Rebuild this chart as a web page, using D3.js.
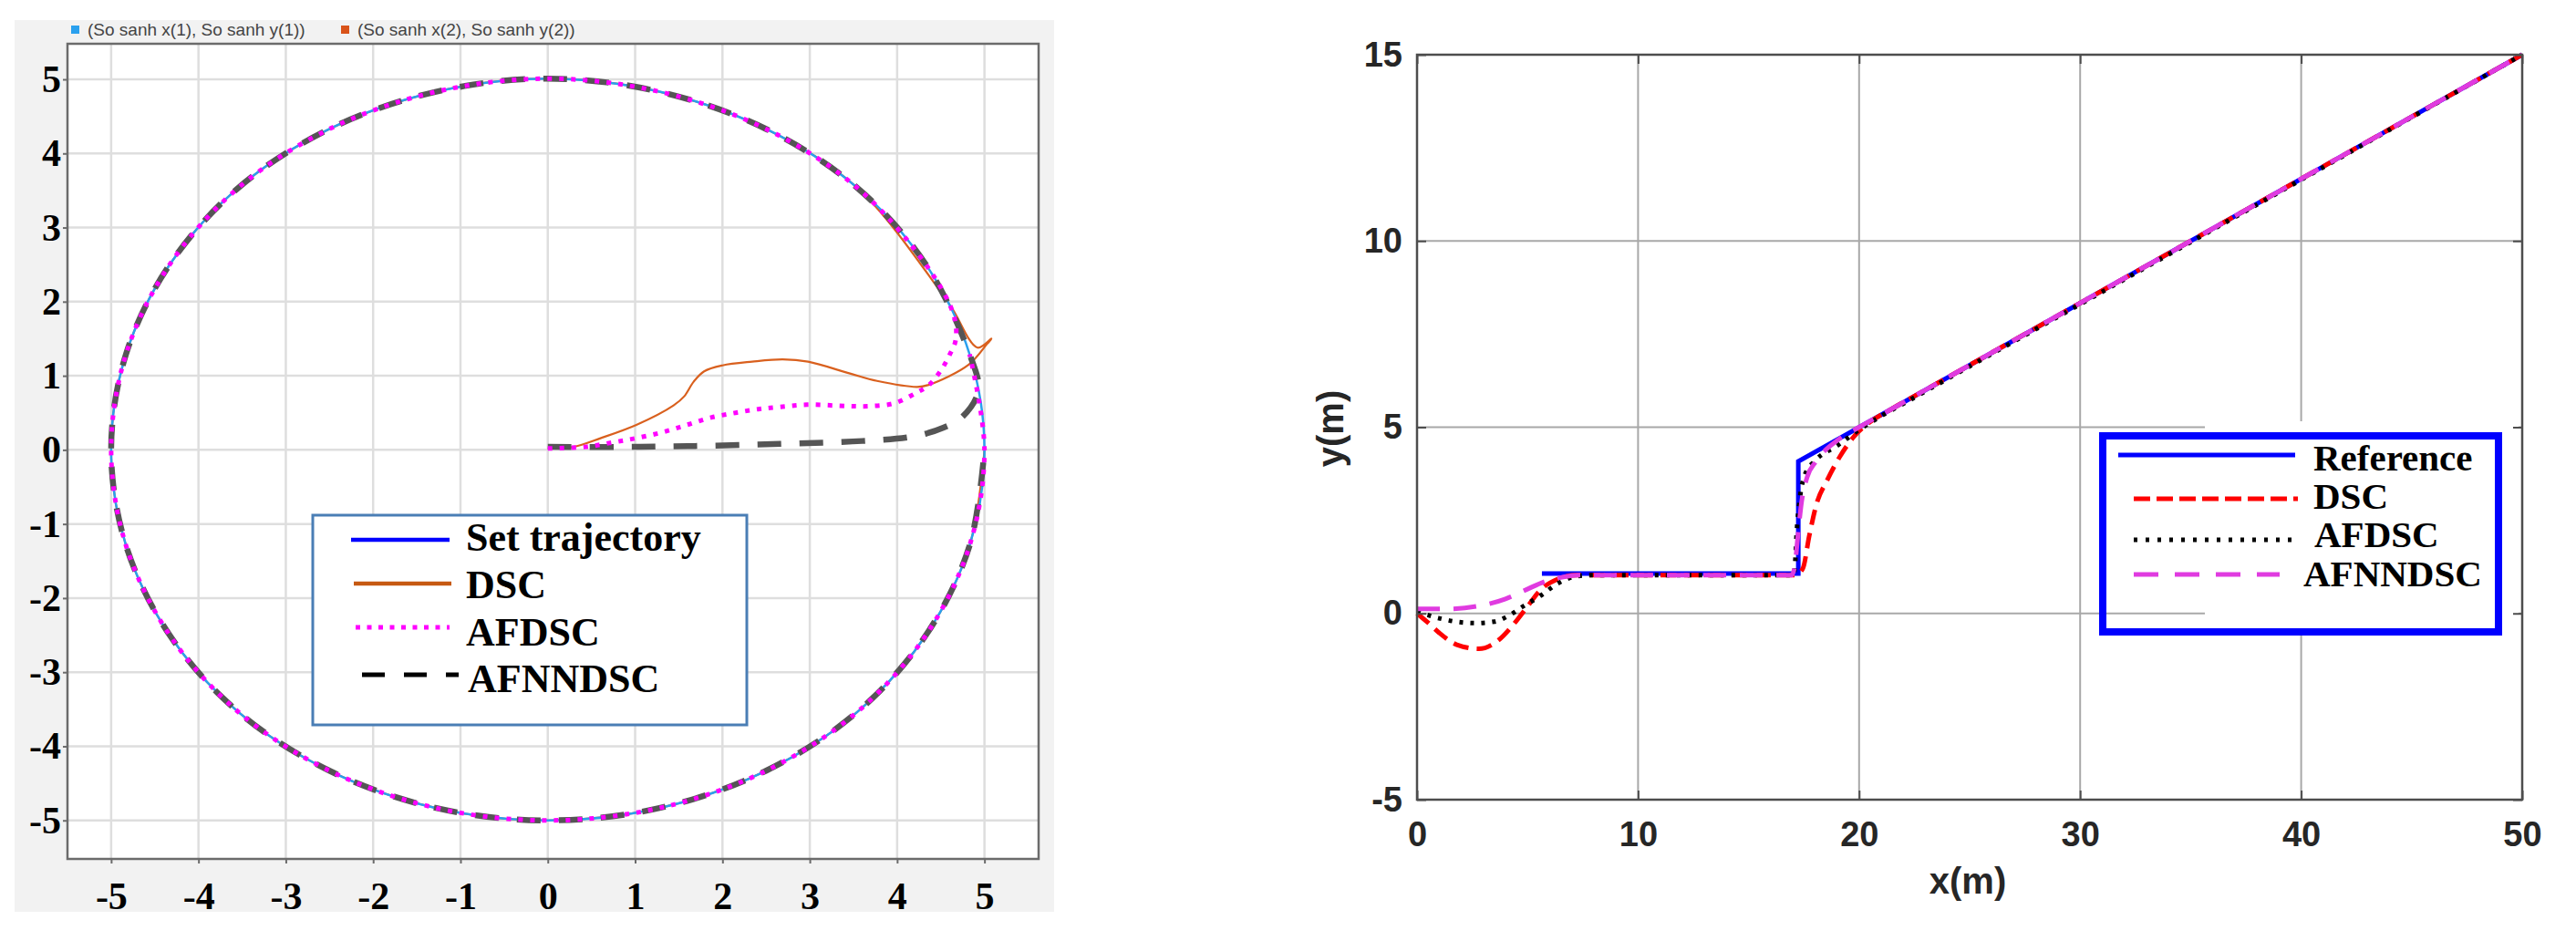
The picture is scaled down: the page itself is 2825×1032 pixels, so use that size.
<!DOCTYPE html>
<html>
<head>
<meta charset="utf-8">
<script src="https://cdn.jsdelivr.net/npm/d3@7"></script>
<style>
body { margin:0; background:#fff; }
</style>
</head>
<body>
<script>
// ---------- left panel: circle tracking ----------
var circleTicks = [-5,-4,-3,-2,-1,0,1,2,3,4,5];
var topLegend = ['(So sanh x(1), So sanh y(1))', '(So sanh x(2), So sanh y(2))'];
var leftNames = ['Set trajectory', 'DSC', 'AFDSC', 'AFNNDSC'];

// set trajectory, read every 15 degrees
var circlePts = [[5,0],[4.83,1.29],[4.33,2.5],[3.54,3.54],[2.5,4.33],[1.29,4.83],[0,5.01],
  [-1.29,4.83],[-2.5,4.33],[-3.54,3.54],[-4.33,2.5],[-4.83,1.29],[-5,0],[-4.83,-1.29],
  [-4.33,-2.5],[-3.54,-3.54],[-2.5,-4.33],[-1.29,-4.83],[0,-5],[1.29,-4.83],[2.5,-4.33],
  [3.54,-3.54],[4.33,-2.5],[4.83,-1.29]];

// start-up parts before the controllers reach the circle
var dscStart = [[0,0.02],[0.29,0.04],[0.61,0.16],[1.02,0.34],[1.44,0.6],[1.56,0.72],[1.67,0.92],
  [1.79,1.06],[2,1.14],[2.34,1.19],[2.69,1.22],[2.98,1.19],[3.46,1.03],[3.77,0.93],[4.23,0.85],
  [4.37,0.88],[4.82,1.15],[5.03,1.43],[5.08,1.5],[4.92,1.38],[4.64,1.89],[4.5,2.13]];
var afdscStart = [[0,0.02],[0.43,0.04],[0.74,0.1],[1.02,0.16],[1.32,0.24],[1.6,0.34],[1.88,0.44],
  [2.15,0.5],[2.41,0.55],[2.66,0.58],[2.97,0.61],[3.45,0.59],[3.69,0.59],[3.97,0.63],[4.22,0.77],
  [4.36,0.87],[4.5,1.07],[4.6,1.28],[4.67,1.48],[4.65,1.81]];
var afnndscStart = [[0,0.04],[0.8,0.04],[1.6,0.05],[2.66,0.08],[3.6,0.12],[4.18,0.18],[4.53,0.3],
  [4.75,0.45],[4.93,0.8]];

// ---------- right panel: step + line tracking ----------
var xTicks = [0,10,20,30,40,50];
var yTicks = [-5,0,5,10,15];
var rightNames = ['Reference', 'DSC', 'AFDSC', 'AFNNDSC'];

var refLine = [[5.65,1.07],[17.25,1.07],[17.25,4.08],[50,15]];
var dscLine = [[0,0],[0.5,-0.25],[1,-0.52],[1.8,-0.84],[2.8,-0.95],[3.7,-0.71],[4.3,-0.34],
  [4.95,0.15],[5.6,0.64],[6.35,0.92],[7.2,1.03],[10,1.03],[17.1,1.03],[17.45,1.2],[17.75,2.1],
  [18.07,2.93],[18.55,3.57],[19.15,4.23],[19.8,4.77],[20.45,5.12],[21.5,5.5],[23,6],[26,7],
  [35,10],[50,15]];
var afdscLine = [[0,0.05],[1,-0.13],[2,-0.24],[2.6,-0.26],[3.5,-0.22],[4.15,-0.06],[4.8,0.19],
  [5.6,0.48],[6.35,0.8],[7.15,0.99],[8,1.03],[17.05,1.03],[17.1,1.3],[17.18,2.2],[17.32,3.09],
  [17.56,3.74],[18.03,4.11],[19,4.5],[20,4.93],[21,5.3],[22,5.63],[24,6.3],[27,7.3],[35,9.97],
  [50,15]];
var afnndscLine = [[0,0.12],[1.3,0.12],[2.7,0.19],[4,0.39],[4.95,0.64],[5.75,0.85],[6.55,0.97],
  [7.3,1.03],[16.95,1.03],[17.1,1.3],[17.2,1.9],[17.4,3.0],[17.65,3.66],[18.05,4.08],[19,4.64],
  [20,5.0],[21,5.33],[23,6],[26,7],[35,10],[50,15]];

var serif = 'Liberation Serif, Times New Roman, serif';
var sans = 'Liberation Sans, Arial, sans-serif';

var svg = d3.select('body')
            .append('svg')
            .attr('width', 2825)
            .attr('height', 1032)

// ================= LEFT =================
var xL = d3.scaleLinear().domain([-5.5, 5.62]).range([74, 1139]);
var yL = d3.scaleLinear().domain([-5.52, 5.48]).range([942, 48]);

var gL = svg.append('g')

gL.append('rect').attr('x',16).attr('y',22).attr('width',1140).attr('height',978).attr('fill','#f2f2f2')
gL.append('rect').attr('x',74).attr('y',48).attr('width',1065).attr('height',894).attr('fill','#fff')

gL.selectAll('line.gx')
  .data(circleTicks).enter().append('line')
  .attr('x1', function(d){return xL(d);}).attr('x2', function(d){return xL(d);})
  .attr('y1', 48).attr('y2', 942)
  .attr('stroke', '#dedede').attr('stroke-width', 2.5)
gL.selectAll('line.gy')
  .data(circleTicks).enter().append('line')
  .attr('y1', function(d){return yL(d);}).attr('y2', function(d){return yL(d);})
  .attr('x1', 74).attr('x2', 1139)
  .attr('stroke', '#dedede').attr('stroke-width', 2.5)

var axLB = gL.append('g')
  .attr('transform', 'translate(0,942)')
  .call(d3.axisBottom(xL).tickValues(circleTicks).tickSize(5).tickSizeOuter(0).tickPadding(20)
        .tickFormat(function(d){return String(d);}))
var axLL = gL.append('g')
  .attr('transform', 'translate(74,0)')
  .call(d3.axisLeft(yL).tickValues(circleTicks).tickSize(5).tickSizeOuter(0).tickPadding(2)
        .tickFormat(function(d){return String(d);}))
;[axLB, axLL].forEach(function(a){
  a.select('.domain').remove();
  a.selectAll('line').attr('stroke', '#6b6b6b').attr('stroke-width', 2);
  a.selectAll('text').attr('font-family', serif).attr('font-weight', 'bold')
    .attr('font-size', 42).attr('fill', '#000');
})

var lineL = d3.line()
  .x(function(d){return xL(d[0]);})
  .y(function(d){return yL(d[1]);})
  .curve(d3.curveCatmullRom.alpha(0.5))

var dscPath = dscStart.concat(circlePts.slice(3), circlePts.slice(0,1));
var afdscPath = afdscStart.concat(circlePts.slice(2), circlePts.slice(0,2));
var afnndscPath = afnndscStart.concat(circlePts.slice(1), circlePts.slice(0,1));

gL.append('path').attr('d', lineL(dscPath))
  .attr('fill','none').attr('stroke','#d9601e').attr('stroke-width',2.2)
gL.append('path')
  .attr('d', d3.line().x(function(d){return xL(d[0]);}).y(function(d){return yL(d[1]);})
                .curve(d3.curveCatmullRomClosed.alpha(0.5))(circlePts))
  .attr('fill','none').attr('stroke','#2aa0ee').attr('stroke-width',2.5)
gL.append('path').attr('d', lineL(afnndscPath))
  .attr('fill','none').attr('stroke','#555').attr('stroke-width',6.5)
  .attr('stroke-dasharray','26,20')
gL.append('path').attr('d', lineL(afdscPath))
  .attr('fill','none').attr('stroke','#ff00ff').attr('stroke-width',5)
  .attr('stroke-dasharray','5,8')

gL.append('rect').attr('x',74).attr('y',48).attr('width',1065).attr('height',894)
  .attr('fill','none').attr('stroke','#6b6b6b').attr('stroke-width',2.5)

// top legend strip
var topX = [78, 374];
var topCol = ['#2aa0ee', '#d95319'];
gL.selectAll('rect.tl').data(topLegend).enter().append('rect')
  .attr('x', function(d,i){return topX[i];}).attr('y', 28).attr('width', 9).attr('height', 9)
  .attr('fill', function(d,i){return topCol[i];})
gL.selectAll('text.tl').data(topLegend).enter().append('text')
  .attr('x', function(d,i){return topX[i] + 18;}).attr('y', 39)
  .attr('font-family', sans).attr('font-size', 19).attr('fill', '#444')
  .text(function(d){return d;})

// left legend
gL.append('rect').attr('x',343).attr('y',565).attr('width',476).attr('height',230)
  .attr('fill','#fff').attr('stroke','#4a7eb5').attr('stroke-width',3)
var legL = [
  {y:592, x1:385, x2:493, c:'#0000ff', w:4.5, dash:null},
  {y:640, x1:388, x2:495, c:'#c65911', w:4.5, dash:null},
  {y:688, x1:390, x2:493, c:'#ff00ff', w:5, dash:'5,7.5'},
  {y:740, x1:397, x2:503, c:'#000', w:5, dash:'25,21'}
];
var legLText = [[511,604],[511,656],[511,708],[513,759]];
gL.selectAll('line.ll').data(legL).enter().append('line')
  .attr('x1', function(d){return d.x1;}).attr('x2', function(d){return d.x2;})
  .attr('y1', function(d){return d.y;}).attr('y2', function(d){return d.y;})
  .attr('stroke', function(d){return d.c;}).attr('stroke-width', function(d){return d.w;})
  .attr('stroke-dasharray', function(d){return d.dash;})
gL.selectAll('text.ll').data(leftNames).enter().append('text')
  .attr('x', function(d,i){return legLText[i][0];}).attr('y', function(d,i){return legLText[i][1];})
  .attr('font-family', serif).attr('font-weight','bold').attr('font-size', 44).attr('fill','#000')
  .text(function(d){return d;})

// ================= RIGHT =================
var xR = d3.scaleLinear().domain([0, 50]).range([1554, 2766]);
var yR = d3.scaleLinear().domain([-5, 15]).range([877, 60]);

var gR = svg.append('g')

gR.selectAll('line.gx').data(xTicks).enter().append('line')
  .attr('x1', function(d){return xR(d);}).attr('x2', function(d){return xR(d);})
  .attr('y1', 60).attr('y2', 877)
  .attr('stroke', '#a8a8a8').attr('stroke-width', 2)
gR.selectAll('line.gy').data(yTicks).enter().append('line')
  .attr('y1', function(d){return yR(d);}).attr('y2', function(d){return yR(d);})
  .attr('x1', 1554).attr('x2', 2766)
  .attr('stroke', '#a8a8a8').attr('stroke-width', 2)

// white patch left over from the original legend
gR.append('rect').attr('x',2418).attr('y',462).attr('width',344).attr('height',228).attr('fill','#fff')

var lineR = d3.line()
  .x(function(d){return xR(d[0]);})
  .y(function(d){return yR(d[1]);})

gR.append('path').attr('d', lineR(refLine))
  .attr('fill','none').attr('stroke','#0000ff').attr('stroke-width',5)
gR.append('path').attr('d', lineR.curve(d3.curveMonotoneX)(dscLine))
  .attr('fill','none').attr('stroke','#ff0000').attr('stroke-width',5)
  .attr('stroke-dasharray','17,9')
gR.append('path').attr('d', lineR.curve(d3.curveMonotoneX)(afdscLine))
  .attr('fill','none').attr('stroke','#000').attr('stroke-width',5)
  .attr('stroke-dasharray','4,8')
gR.append('path').attr('d', lineR.curve(d3.curveMonotoneX)(afnndscLine))
  .attr('fill','none').attr('stroke','#e03be0').attr('stroke-width',5)
  .attr('stroke-dasharray','25,15')

gR.append('rect').attr('x',1554).attr('y',60).attr('width',1212).attr('height',817)
  .attr('fill','none').attr('stroke','#4d4d4d').attr('stroke-width',2.5)

var axRB = gR.append('g').attr('transform','translate(0,877)')
  .call(d3.axisBottom(xR).tickValues(xTicks).tickSizeInner(-10).tickSizeOuter(0).tickPadding(24)
        .tickFormat(function(d){return String(d);}))
var axRL = gR.append('g').attr('transform','translate(1554,0)')
  .call(d3.axisLeft(yR).tickValues(yTicks).tickSizeInner(-10).tickSizeOuter(0).tickPadding(16)
        .tickFormat(function(d){return String(d);}))
var axRT = gR.append('g').attr('transform','translate(0,60)')
  .call(d3.axisTop(xR).tickValues(xTicks).tickSizeInner(-10).tickSizeOuter(0).tickFormat(''))
var axRR = gR.append('g').attr('transform','translate(2766,0)')
  .call(d3.axisRight(yR).tickValues(yTicks).tickSizeInner(-10).tickSizeOuter(0).tickFormat(''))
;[axRB, axRL, axRT, axRR].forEach(function(a){
  a.select('.domain').remove();
  a.selectAll('line').attr('stroke', '#4d4d4d').attr('stroke-width', 2);
  a.selectAll('text').attr('font-family', sans).attr('font-weight', 'bold')
    .attr('font-size', 38).attr('fill', '#262626');
})

gR.append('text').attr('x', 2158).attr('y', 980).attr('text-anchor','middle')
  .attr('font-family', sans).attr('font-weight','bold').attr('font-size', 40).attr('fill','#262626')
  .text('x(m)')
gR.append('text').attr('transform','translate(1473,470) rotate(-90)').attr('text-anchor','middle')
  .attr('font-family', sans).attr('font-weight','bold').attr('font-size', 40).attr('fill','#262626')
  .text('y(m)')

// right legend
gR.append('rect').attr('x',2306).attr('y',478).attr('width',434).attr('height',215)
  .attr('fill','none').attr('stroke','#0000ff').attr('stroke-width',8)
var legR = [
  {y:499, x1:2323, x2:2517, c:'#0000ff', dash:null},
  {y:547, x1:2340, x2:2520, c:'#ff0000', dash:'18,7'},
  {y:592, x1:2340, x2:2520, c:'#000', dash:'4,9'},
  {y:630, x1:2340, x2:2500, c:'#e03be0', dash:'27,18'}
];
var legRText = [[2537,516],[2537,558],[2538,600],[2526,643]];
gR.selectAll('line.lr').data(legR).enter().append('line')
  .attr('x1', function(d){return d.x1;}).attr('x2', function(d){return d.x2;})
  .attr('y1', function(d){return d.y;}).attr('y2', function(d){return d.y;})
  .attr('stroke', function(d){return d.c;}).attr('stroke-width', 5)
  .attr('stroke-dasharray', function(d){return d.dash;})
gR.selectAll('text.lr').data(rightNames).enter().append('text')
  .attr('x', function(d,i){return legRText[i][0];}).attr('y', function(d,i){return legRText[i][1];})
  .attr('font-family', serif).attr('font-weight','bold').attr('font-size', 41).attr('fill','#000')
  .text(function(d){return d;})
</script>
</body>
</html>
